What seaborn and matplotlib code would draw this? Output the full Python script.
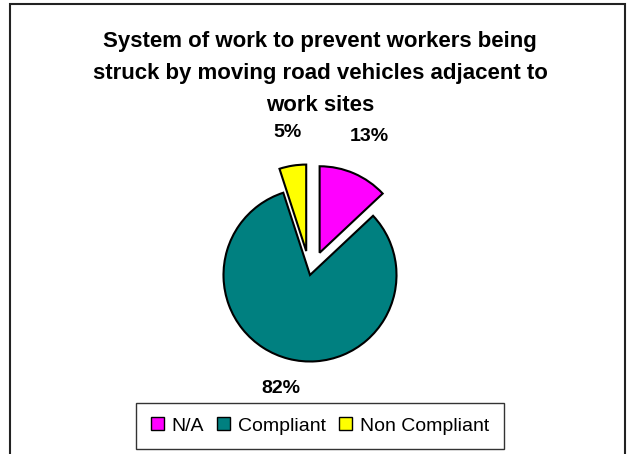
import matplotlib
matplotlib.use("Agg")
import matplotlib.pyplot as plt
import seaborn as sns
import numpy as np
from matplotlib.patches import Rectangle

sns.set_theme(style="white")
plt.rcParams['font.family'] = ['Liberation Sans', 'DejaVu Sans']
plt.rcParams['text.color'] = 'black'

categories = ["N/A", "Compliant", "Non Compliant"]
values = [13, 82, 5]
colors = ["#FF00FF", "#008080", "#FFFF00"]
explode = [0.28, 0.0, 0.28]
label_dist = [1.46, 1.35, 1.39]
title = "System of work to prevent workers being\nstruck by moving road vehicles adjacent to\nwork sites"

W, H = 628, 454
fig = plt.figure(figsize=(W / 100, H / 100), dpi=100)
fig.patch.set_facecolor("white")

# outer chart frame
fig.patches.append(Rectangle((10 / W, -0.05), 615 / W, (H - 4) / H + 0.05,
                             transform=fig.transFigure, fill=False,
                             edgecolor="#222222", linewidth=1.5, zorder=0))

r_px = 86.5
k = 1.8
side = 2 * r_px * k
cx, cy = 310, 275
ax = fig.add_axes([(cx - side / 2) / W, (H - cy - side / 2) / H, side / W, side / H])

wedges, texts, autotexts = ax.pie(
    values, colors=colors, explode=explode, startangle=90, counterclock=False,
    autopct=lambda p: f"{p:.0f}%", pctdistance=1.4,
    wedgeprops=dict(edgecolor="black", linewidth=1.5),
    textprops=dict(fontsize=14, fontweight="bold", color="black"))
for w, t, d in zip(wedges, autotexts, label_dist):
    ang = np.deg2rad((w.theta1 + w.theta2) / 2)
    c = w.center
    t.set_position((c[0] + d * np.cos(ang), c[1] + d * np.sin(ang)))
    t.set_ha("center")
    t.set_va("center")
ax.set_xlim(-k, k)
ax.set_ylim(-k, k)
ax.set_aspect("equal")
ax.axis("off")

fig.text(320 / W, 1 - 31 / H, title, ha="center", va="top", fontsize=16,
         fontweight="bold", linespacing=1.7, color="black")

leg = fig.legend(wedges, categories, loc="center", bbox_to_anchor=(320 / W, 1 - 426 / H),
                 ncol=3, frameon=True, fontsize=14, handlelength=0.65, handleheight=0.65,
                 handletextpad=0.4, columnspacing=0.7, borderpad=0.75, fancybox=False)
leg.get_frame().set_edgecolor("black")
leg.get_frame().set_linewidth(1.0)
for h in leg.legend_handles:
    h.set_linewidth(1.0)

fig.savefig("out.png", dpi=100, facecolor="white")
